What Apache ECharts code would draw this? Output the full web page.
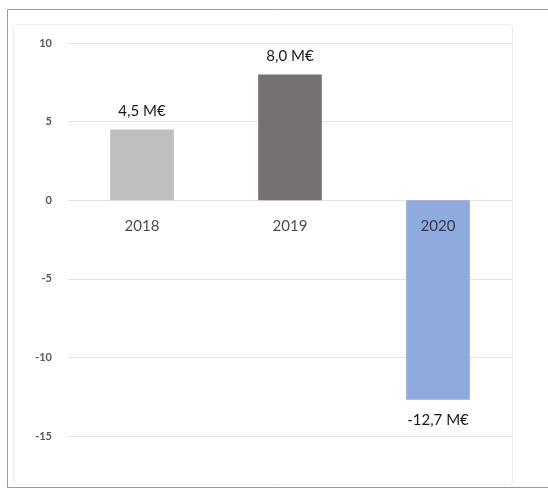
<!DOCTYPE html>
<html>
<head>
<meta charset="utf-8">
<script src="https://cdn.jsdelivr.net/npm/echarts@6/dist/echarts.min.js"></script>
<style>
  html, body { margin: 0; padding: 0; background: #ffffff; }
  #chart { width: 548px; height: 490px; }
</style>
</head>
<body>
<div id="chart"></div>
<script>
// Annual result in millions of euros
const years = ['2018', '2019', '2020'];
const results = [4.5, 8.0, -12.7];
const barColors = ['#bfbfbf', '#767171', '#8faadc'];
const yTicks = { min: -15, max: 10, interval: 5 };

const fmt = v => v.toFixed(1).replace('.', ',') + ' M€';
const labelFont = 'Lato, "Open Sans", sans-serif';

const chart = echarts.init(document.getElementById('chart'), null, { renderer: 'canvas' });

chart.setOption({
  animation: false,
  backgroundColor: '#ffffff',
  textStyle: { fontFamily: labelFont },
  graphic: [
    {
      type: 'rect', z: -10, silent: true,
      shape: { x: 7.5, y: 9.5, width: 560, height: 478 },
      style: { fill: '#ffffff', stroke: '#9a9a9a', lineWidth: 1 }
    },
    {
      type: 'rect', z: -9, silent: true,
      shape: { x: 13.5, y: 24.5, width: 499, height: 460, r: 3 },
      style: { fill: '#ffffff', stroke: '#ececec', lineWidth: 1 }
    }
  ],
  grid: { left: 68, right: 36, top: 43, bottom: 54, containLabel: false },
  xAxis: {
    type: 'category',
    data: years,
    axisLine: { show: false },
    axisTick: { show: false },
    axisLabel: { show: false }
  },
  yAxis: {
    type: 'value',
    min: yTicks.min,
    max: yTicks.max,
    interval: yTicks.interval,
    axisLine: { show: false },
    axisTick: { show: false },
    axisLabel: {
      margin: 16,
      color: '#595959',
      fontSize: 11,
      fontWeight: 'bold'
    },
    splitLine: { lineStyle: { color: '#e3e3e3', width: 1 } }
  },
  series: [
    {
      type: 'bar',
      barWidth: '43%',
      data: results.map((v, i) => ({
        value: v,
        itemStyle: { color: barColors[i] },
        label: { position: v < 0 ? 'bottom' : 'top', distance: v < 0 ? 13 : 11 }
      })),
      label: {
        show: true,
        color: '#1a1a1a',
        fontSize: 15,
        formatter: p => fmt(p.value)
      }
    },
    {
      // category names sitting just below the zero line
      type: 'scatter',
      z: 10,
      symbolSize: 0,
      silent: true,
      data: years.map(y => [y, 0]),
      label: {
        show: true,
        position: 'bottom',
        distance: 18,
        color: '#1a1a1a',
        fontSize: 15,
        formatter: p => p.value[0]
      }
    }
  ]
});
</script>
</body>
</html>
